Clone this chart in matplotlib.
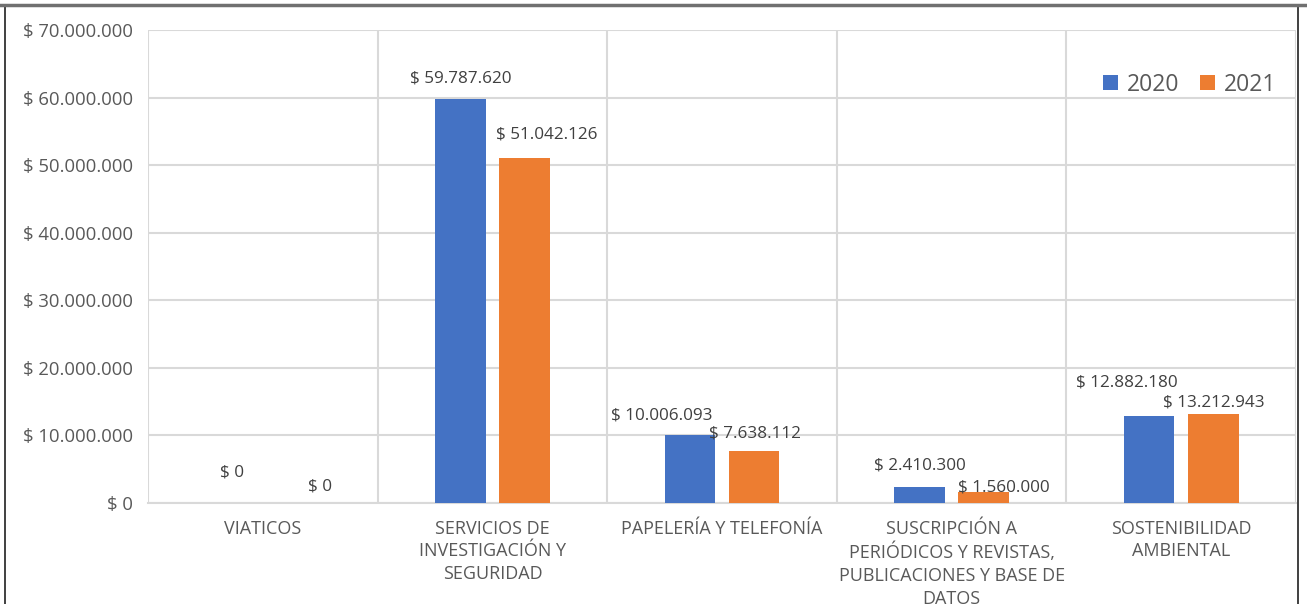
import matplotlib
matplotlib.use("Agg")
import matplotlib.pyplot as plt
from matplotlib.lines import Line2D
import numpy as np

categories = ["VIATICOS", "SERVICIOS DE\nINVESTIGACIÓN Y\nSEGURIDAD", "PAPELERÍA Y TELEFONÍA",
              "SUSCRIPCIÓN A\nPERIÓDICOS Y REVISTAS,\nPUBLICACIONES Y BASE DE\nDATOS",
              "SOSTENIBILIDAD\nAMBIENTAL"]
values_2020 = [0, 59787620, 10006093, 2410300, 12882180]
values_2021 = [0, 51042126, 7638112, 1560000, 13212943]
series_names = ["2020", "2021"]

# label offsets in pixels (dx, dy) from bar top centre
off_2020 = [(1, 30), (0, 21), (-28, 20), (0, 21), (-22, 33)]
off_2021 = [(25, 17), (22, 24), (1, 18), (20, 5), (0, 11)]

def fmt(v):
    return "$ " + f"{v:,}".replace(",", ".")

FONT = "Open Sans"
GRAY = "#595959"
BLUE = "#4472C4"
ORANGE = "#ED7D31"

W, H = 1307, 604
fig = plt.figure(figsize=(W/100, H/100), dpi=100)
ax = fig.add_axes([148/W, (H-503)/H, (1296-148)/W, (503-30)/H])

x = np.arange(len(categories))
bw = 0.22
sh = 0.14
b1 = ax.bar(x - sh, values_2020, bw, color=BLUE, zorder=3, label=series_names[0])
b2 = ax.bar(x + sh, values_2021, bw, color=ORANGE, zorder=3, label=series_names[1])

ax.set_xlim(-0.5, len(categories) - 0.5)
ax.set_ylim(0, 70000000)
yt = np.arange(0, 70000001, 10000000)
ax.set_yticks(yt)
ax.set_yticklabels([fmt(int(v)) for v in yt], fontsize=13.3, color=GRAY, family=FONT)
ax.set_xticks(x)
ax.set_xticklabels(categories, fontsize=13, color=GRAY, family=FONT, linespacing=1.33, va="top")
ax.tick_params(axis="x", length=0, pad=12)
ax.tick_params(axis="y", length=0, pad=11)
ax.set_xticks(np.arange(-0.5, len(categories), 1.0), minor=True)
ax.tick_params(axis="x", which="minor", length=0)
ax.grid(axis="y", which="major", color="#d9d9d9", lw=1.5, zorder=0)
ax.grid(axis="x", which="minor", color="#d9d9d9", lw=1.5, zorder=0)
ax.grid(axis="x", which="major", visible=False)
for s in ["top", "right", "left"]:
    ax.spines[s].set_visible(False)
ax.spines["bottom"].set_color("#d9d9d9")
ax.spines["bottom"].set_linewidth(1.5)

for bars, vals, offs in [(b1, values_2020, off_2020), (b2, values_2021, off_2021)]:
    for b, v, (dx, dy) in zip(bars, vals, offs):
        ax.annotate(fmt(v), (b.get_x() + b.get_width()/2, v), xytext=(dx, dy),
                    textcoords="offset pixels", ha="center", va="center",
                    fontsize=12.3, color="#404040", family=FONT, zorder=5)

leg = ax.legend(loc="upper right", bbox_to_anchor=(1297/W, (H-52)/H), bbox_transform=fig.transFigure,
                ncol=2, frameon=False, handlelength=0.65, handleheight=0.65,
                handletextpad=0.4, columnspacing=0.9, prop={"family": FONT, "size": 16.5})
for t in leg.get_texts():
    t.set_color(GRAY)

# chart border
fig.add_artist(Line2D([5/W, 5/W], [0, 1 - 5/H], transform=fig.transFigure, color="#202020", lw=1.2))
fig.add_artist(Line2D([1298/W, 1298/W], [0, 1 - 5/H], transform=fig.transFigure, color="#202020", lw=1.2))
fig.add_artist(Line2D([0, 1], [1 - 5/H, 1 - 5/H], transform=fig.transFigure, color="#707070", lw=2.5))

fig.savefig("out.png", dpi=100)
